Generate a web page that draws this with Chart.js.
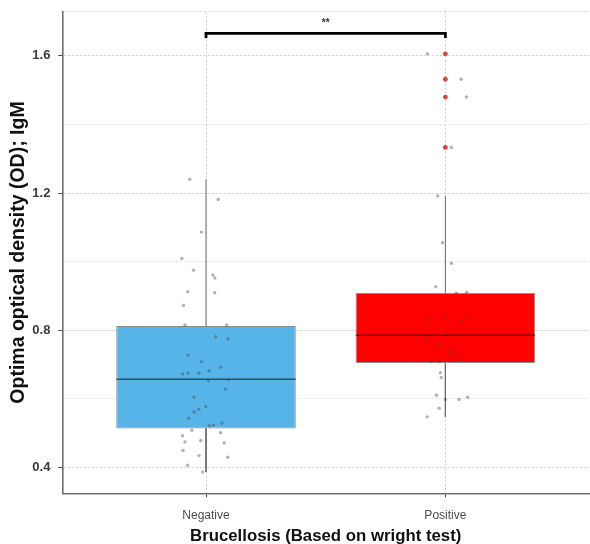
<!DOCTYPE html>
<html><head><meta charset="utf-8">
<script src="https://cdn.jsdelivr.net/npm/chart.js@4.4.0/dist/chart.umd.min.js"></script>
<style>html,body{margin:0;padding:0;background:#fff;overflow:hidden;}#wrap{width:593px;height:544px;position:relative;}</style>
</head><body><div id="wrap"><canvas id="c"></canvas></div>
<script>
// ---- data ----
const categories = ['Negative', 'Positive'];
const yMajorTicks = [0.4, 0.8, 1.2, 1.6];
const yMinorTicks = [0.6, 1.0, 1.4];
const yRange = [0.324, 1.729];
const q1 = [0.513, 0.704];
const median = [0.657, 0.785];
const q3 = [0.812, 0.909];
const whiskerLow = [0.386, 0.547];
const whiskerHigh = [1.240, 1.192];
const positiveOutliers = [1.606, 1.532, 1.480, 1.333];
const negativeValues = [1.240,1.181,1.086,1.009,0.975,0.961,0.952,0.912,0.909,0.872,0.815,0.815,0.781,0.774,0.727,0.708,0.692,0.672,0.675,0.675,0.681,0.653,0.656,0.628,0.604,0.577,0.569,0.561,0.543,0.529,0.521,0.523,0.508,0.492,0.501,0.474,0.478,0.471,0.449,0.434,0.429,0.406,0.386];
const negativeJitter = [-0.068,0.051,-0.019,-0.101,-0.052,0.029,0.037,-0.076,0.036,-0.094,-0.088,0.086,0.040,0.091,-0.075,-0.019,0.061,-0.098,-0.076,-0.030,0.012,0.010,0.094,0.081,-0.050,-0.001,-0.030,-0.050,-0.072,0.066,0.014,0.031,-0.059,-0.098,0.061,-0.088,-0.022,0.076,-0.096,-0.029,0.091,-0.077,-0.014];
const positiveValues = [1.606,1.532,1.480,1.333,1.192,1.055,0.995,0.927,0.908,0.910,0.830,0.832,0.833,0.824,0.776,0.789,0.786,0.758,0.739,0.734,0.715,0.708,0.708,0.676,0.662,0.610,0.598,0.598,0.604,0.572,0.547];
const positiveJitter = [-0.075,0.066,0.088,0.025,-0.032,-0.012,0.025,-0.040,0.046,0.089,-0.078,0.000,0.091,0.071,-0.081,0.002,0.062,-0.026,0.027,0.029,0.062,-0.059,-0.026,-0.021,-0.017,-0.037,0.000,0.057,0.093,-0.026,-0.076];
const bracketLevel = 1.666;
const bracketTip = 1.652;
const significance = '**';

// ---- styles ----
const boxColors = ['#56B4E9', '#FF0000'];
const boxHalf = 0.375;
const FONT = '"Liberation Sans", Arial, sans-serif';

const datasets = [];
// boxes
datasets.push({
  type: 'bar', order: 6,
  data: categories.map((c, i) => ({x: i + 1, y: [q1[i], q3[i]]})),
  backgroundColor: boxColors,
  borderColor: 'rgba(0,0,0,0.45)', borderWidth: 1, borderSkipped: false,
  categoryPercentage: 0.75, barPercentage: 1.0
});
// medians
categories.forEach((c, i) => datasets.push({
  type: 'line', order: 3,
  data: [{x: i + 1 - boxHalf, y: median[i]}, {x: i + 1 + boxHalf, y: median[i]}],
  borderColor: 'rgba(0,0,0,0.55)', borderWidth: 1.5, pointRadius: 0
}));
// whiskers
categories.forEach((c, i) => {
  datasets.push({type: 'line', order: 4, data: [{x: i + 1, y: q3[i]}, {x: i + 1, y: whiskerHigh[i]}],
    borderColor: '#6a6a6a', borderWidth: 1, pointRadius: 0});
  datasets.push({type: 'line', order: 4, data: [{x: i + 1, y: q1[i]}, {x: i + 1, y: whiskerLow[i]}],
    borderColor: '#6a6a6a', borderWidth: 1, pointRadius: 0});
});
// jitter points
datasets.push({type: 'scatter', order: 2,
  data: negativeValues.map((v, k) => ({x: 1 + negativeJitter[k], y: v})),
  backgroundColor: 'rgba(70,70,70,0.42)', borderWidth: 0, pointRadius: 1.7});
datasets.push({type: 'scatter', order: 2,
  data: positiveValues.map((v, k) => ({x: 2 + positiveJitter[k], y: v})),
  backgroundColor: 'rgba(70,70,70,0.42)', borderWidth: 0, pointRadius: 1.7});
// outliers
datasets.push({type: 'scatter', order: 1,
  data: positiveOutliers.map(v => ({x: 2, y: v})),
  backgroundColor: 'rgba(215,45,35,0.9)', borderWidth: 0, pointRadius: 2.4});
// significance bracket
datasets.push({type: 'line', order: 0,
  data: [{x: 1, y: bracketTip}, {x: 1, y: bracketLevel}, {x: 2, y: bracketLevel}, {x: 2, y: bracketTip}],
  borderColor: '#000', borderWidth: 2.8, pointRadius: 0, borderJoinStyle: 'miter', borderCapStyle: 'butt'});

const sigLabel = {
  id: 'sigLabel',
  afterDatasetsDraw(chart) {
    const {ctx, scales: {x, y}} = chart;
    ctx.save();
    ctx.font = 'bold 10px ' + FONT;
    ctx.fillStyle = '#333';
    ctx.textAlign = 'center';
    ctx.textBaseline = 'middle';
    ctx.fillText(significance, x.getPixelForValue(1.5), y.getPixelForValue(bracketLevel) - 10);
    ctx.restore();
  }
};

const isMajor = v => yMajorTicks.some(t => Math.abs(t - v) < 1e-9);
const isMinor = v => yMinorTicks.some(t => Math.abs(t - v) < 1e-9);

new Chart(document.getElementById('c'), {
  type: 'scatter',
  data: {datasets},
  plugins: [sigLabel],
  options: {
    responsive: true, maintainAspectRatio: false, animation: false, devicePixelRatio: 1,
    layout: {padding: {top: 11.7, left: 0, right: 0, bottom: 0}},
    plugins: {legend: {display: false}, tooltip: {enabled: false}},
    scales: {
      x: {
        type: 'linear', min: 0.4, max: 2.6, offset: false,
        afterBuildTicks: s => { s.ticks = categories.map((c, i) => ({value: i + 1})); },
        afterFit: s => { s.height = 50.7; s.paddingLeft = 0; s.paddingRight = 0; },
        ticks: {callback: v => categories[Math.round(v) - 1] || '', autoSkip: false, maxRotation: 0,
          font: {family: FONT, size: 12}, color: '#4d4d4d', padding: 11},
        grid: {offset: false, color: '#cfcfcf', lineWidth: 1, tickLength: 4, tickColor: '#444', tickWidth: 1},
        border: {color: '#6e6e6e', width: 1.6, dash: [2, 2]},
        title: {display: true, text: 'Brucellosis (Based on wright test)', color: '#111',
          font: {family: FONT, size: 16.8, weight: 'bold', lineHeight: '15.6px'}, padding: {top: 0, bottom: 0}}
      },
      y: {
        type: 'linear', min: yRange[0], max: yRange[1],
        afterBuildTicks: s => { s.ticks = [...yMajorTicks, ...yMinorTicks, yRange[1]].sort((a, b) => a - b).map(v => ({value: v})); },
        afterFit: s => { s.width = 62.4; s.paddingTop = 0; s.paddingBottom = 0; },
        ticks: {callback: v => isMajor(v) ? v.toFixed(1) : '', autoSkip: false,
          font: {family: FONT, size: 13, weight: 'bold'}, color: '#3a3a3a', padding: 8},
        grid: {
          color: c => isMajor(c.tick.value) ? '#cdcdcd' : (isMinor(c.tick.value) ? '#e3e3e3' : '#d6d6d6'),
          lineWidth: 1, tickLength: 4,
          tickColor: c => isMajor(c.tick.value) ? '#444' : 'rgba(0,0,0,0)', tickWidth: 1
        },
        border: {color: '#6e6e6e', width: 1.6, dash: [2, 2]},
        title: {display: true, text: 'Optima optical density (OD); IgM', color: '#111',
          font: {family: FONT, size: 19.5, weight: 'bold', lineHeight: 1.2}, padding: {top: 7, bottom: 0}}
      }
    }
  }
});
</script>
</body></html>
